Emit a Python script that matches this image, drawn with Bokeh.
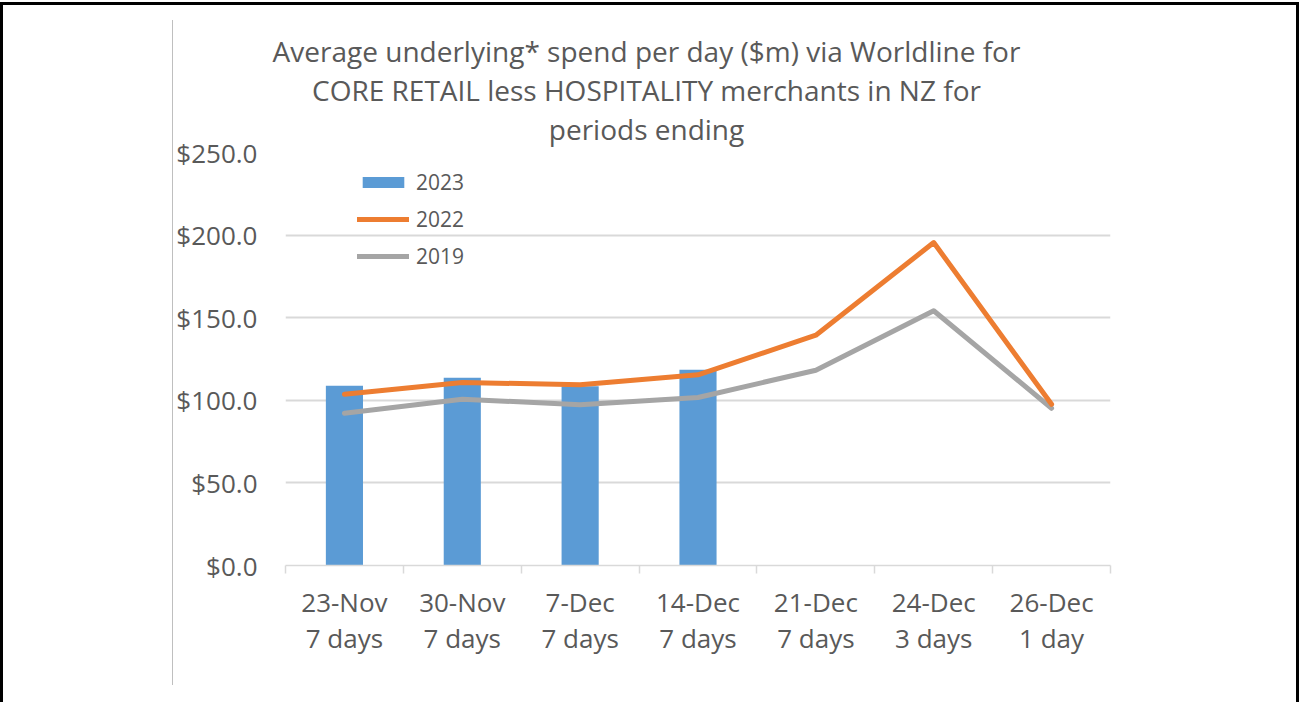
import glob
import subprocess
import numpy as np
from bokeh.plotting import figure
from bokeh.models import (Range1d, FixedTicker, NumeralTickFormatter, Legend,
                          LegendItem, Title, InlineStyleSheet)
from bokeh.embed import file_html
from bokeh.resources import INLINE

# ---------------- data ----------------
categories = ["23-Nov\n7 days", "30-Nov\n7 days", "7-Dec\n7 days", "14-Dec\n7 days",
              "21-Dec\n7 days", "24-Dec\n3 days", "26-Dec\n1 day"]
title_lines = ["Average underlying* spend per day ($m) via Worldline for",
               "CORE RETAIL less HOSPITALITY merchants in NZ for",
               "periods ending"]
y_ticks = [0, 50, 100, 150, 200, 250]
spend_2023 = [108.8, 113.6, 108.5, 118.5]
spend_2022 = [103.7, 110.8, 109.4, 115.4, 139.4, 195.5, 97.6]
spend_2019 = [92.2, 100.7, 97.3, 101.7, 118.2, 154.2, 95.2]
series_names = ["2023", "2022", "2019"]

# ---------------- styles ----------------
BLUE = "#5B9BD5"
ORANGE = "#ED7D31"
GREY = "#A5A5A5"
TEXT = "#595959"
GRID = "#D9D9D9"
FONT = "Open Sans"
TITLE_PX = 28
FRAME_LEFT = 285
TITLE_CENTER = 646  # title block centre, canvas px
TITLE_STANDOFFS = [7.5, -10.5, 7.5]  # per title line, top to bottom


def text_width(s, px):
    """Measure text width with the installed font (for centring title lines)."""
    try:
        from PIL import ImageFont
        path = None
        try:
            path = subprocess.run(["fc-match", "-f", "%{file}", FONT],
                                  capture_output=True, text=True).stdout.strip()
        except Exception:
            path = None
        if not path:
            cands = glob.glob("/usr/share/fonts/**/OpenSans*Regular*.ttf", recursive=True) + \
                    glob.glob("/usr/share/fonts/**/OpenSans*.ttf", recursive=True)
            path = cands[0] if cands else None
        f = ImageFont.truetype(path, px)
        return f.getlength(s)
    except Exception:
        return len(s) * px * 0.52


n = len(categories)
centers = np.arange(n) + 0.5

p = figure(width=1300, height=702, output_backend="svg", toolbar_location=None,
           x_range=Range1d(0, n), y_range=Range1d(0, 250),
           min_border_left=FRAME_LEFT, min_border_right=190, min_border_top=152,
           min_border_bottom=137, frame_width=825, frame_height=413)
p.outline_line_color = None
p.background_fill_color = "white"
p.border_fill_color = "white"

# y axis
p.yaxis.ticker = FixedTicker(ticks=y_ticks)
p.yaxis.formatter = NumeralTickFormatter(format="$0.0")
p.yaxis.axis_line_color = None
p.yaxis.major_tick_line_color = None
p.yaxis.minor_tick_line_color = None
p.yaxis.major_tick_in = 0
p.yaxis.major_tick_out = 0
p.yaxis.major_label_standoff = 28
p.yaxis.major_label_text_font = FONT
p.yaxis.major_label_text_font_size = "26px"
p.yaxis.major_label_text_color = TEXT

# x axis
p.xaxis.ticker = FixedTicker(ticks=list(centers), minor_ticks=list(range(n + 1)))
p.xaxis.major_label_overrides = {float(c): lab for c, lab in zip(centers, categories)}
p.xaxis.axis_line_color = GRID
p.xaxis.axis_line_width = 1.5
p.xaxis.major_tick_line_color = None
p.xaxis.major_tick_in = 0
p.xaxis.major_tick_out = 0
p.xaxis.minor_tick_line_color = GRID
p.xaxis.minor_tick_line_width = 1.5
p.xaxis.minor_tick_in = 0
p.xaxis.minor_tick_out = 8
p.xaxis.major_label_standoff = 10
p.xaxis.major_label_text_font = FONT
p.xaxis.major_label_text_font_size = "26px"
p.xaxis.major_label_text_color = TEXT
p.xaxis.major_label_text_line_height = 1.02

p.xgrid.grid_line_color = None
p.ygrid.ticker = FixedTicker(ticks=y_ticks)
p.ygrid.grid_line_color = GRID
p.ygrid.grid_line_width = 2

# glyphs
bars = p.vbar(x=centers[:len(spend_2023)], top=spend_2023, width=0.315,
              fill_color=BLUE, line_color=None)
l22 = p.line(x=centers, y=spend_2022, line_color=ORANGE, line_width=5,
             line_join="round", line_cap="round")
l19 = p.line(x=centers, y=spend_2019, line_color=GREY, line_width=5,
             line_join="round", line_cap="round")
p.renderers = [bars, l19, l22]

legend = Legend(items=[LegendItem(label=series_names[0], renderers=[bars]),
                       LegendItem(label=series_names[1], renderers=[l22]),
                       LegendItem(label=series_names[2], renderers=[l19])],
                location=(72, 295), padding=0, spacing=9,
                glyph_width=52, glyph_height=14, label_height=14,
                label_standoff=7, border_line_color=None,
                background_fill_alpha=0,
                label_text_font=FONT, label_text_font_size="21px",
                label_text_color=TEXT)
p.add_layout(legend, "center")

# title: three lines centred on the same point (nearest the frame first)
for line, so in reversed(list(zip(title_lines, TITLE_STANDOFFS))):
    w = text_width(line, TITLE_PX)
    p.add_layout(Title(text=line, align="left", offset=TITLE_CENTER - FRAME_LEFT - w / 2,
                       vertical_align="middle", standoff=so,
                       text_font=FONT, text_font_size=f"{TITLE_PX}px",
                       text_font_style="normal", text_color=TEXT), "above")

css = InlineStyleSheet(css="""
:host { position: relative; }
:host::before { content: ""; position: absolute; left: 0px; top: 2px; right: 1px;
                bottom: 0px; border-left: 3px solid black; border-top: 3px solid black;
                border-right: 3px solid black; pointer-events: none; z-index: 10; }
:host::after { content: ""; position: absolute; left: 172px; top: 20px;
               height: 665px; border-left: 1px solid #BFBFBF; z-index: 10; }
""")
p.stylesheets = [css]

open("out.html", "w").write(file_html(p, INLINE))
